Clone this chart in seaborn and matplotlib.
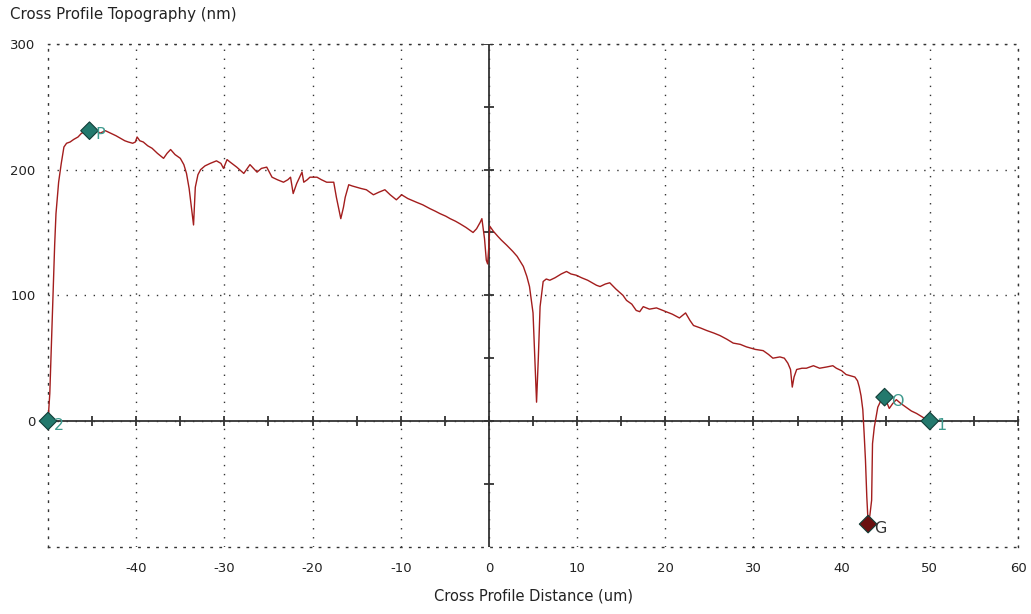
import matplotlib

matplotlib.use("Agg")
import matplotlib.pyplot as plt
import numpy as np
import pandas as pd
import seaborn as sns

# --- 1. DATA ---
distance_um = [
    -50.0, -49.8, -49.6, -49.4, -49.25, -49.1, -48.8, -48.5, -48.2, -47.9,
    -47.5, -47.1, -46.6, -46.2, -45.3, -44.7, -44.1, -43.5, -42.9, -42.3,
    -41.8, -41.3, -40.9, -40.4, -40.1, -39.9, -39.6, -39.2, -38.7, -38.2,
    -37.6, -36.9, -36.5, -36.1, -35.6, -35.0, -34.6, -34.3, -34.0, -33.7,
    -33.5, -33.3, -33.0, -32.7, -32.2, -31.6, -30.9, -30.4, -30.1, -29.7,
    -29.35, -28.6, -27.8, -27.1, -26.3, -25.8, -25.2, -24.6, -24.0, -23.3,
    -22.8, -22.5, -22.2, -21.8, -21.2, -21.0, -20.6, -20.3, -19.5, -19.0,
    -18.4, -17.6, -17.3, -17.0, -16.8, -16.5, -16.3, -15.9, -15.5, -15.0,
    -14.5, -13.9, -13.5, -13.1, -12.5, -11.8, -11.2, -10.5, -9.9, -9.2,
    -8.2, -7.5, -6.7, -6.1, -5.55, -4.9, -4.4, -3.8, -3.3, -2.6,
    -2.2, -1.8, -1.4, -1.0, -0.8, -0.5, -0.3, -0.15, 0.0, 0.1,
    0.5, 1.0, 1.4, 2.0, 2.7, 3.2, 3.9, 4.3, 4.6, 5.0,
    5.2, 5.4, 5.6, 5.8, 6.15, 6.5, 6.9, 7.5, 8.2, 8.8,
    9.3, 9.9, 10.5, 11.2, 12.2, 12.6, 13.2, 13.7, 14.4, 15.2,
    15.6, 16.2, 16.7, 17.1, 17.5, 18.2, 19.0, 20.1, 20.8, 21.6,
    22.3, 22.8, 23.2, 24.0, 24.7, 25.5, 26.2, 27.0, 27.7, 28.5,
    29.2, 30.2, 31.1, 31.7, 32.2, 33.0, 33.5, 33.9, 34.2, 34.4,
    34.6, 34.9, 35.5, 36.0, 36.8, 37.5, 38.3, 39.0, 39.4, 40.0,
    40.5, 41.0, 41.5, 41.8, 42.0, 42.2, 42.4, 42.55, 42.7, 42.85,
    43.0, 43.2, 43.4, 43.5, 43.7, 43.85, 44.1, 44.5, 44.87, 45.1,
    45.4, 45.8, 46.2, 46.7, 47.3, 47.9, 48.5, 49.2, 49.9,
]
height_nm = [
    0, 22, 64, 108, 140, 165, 190, 205, 218, 221,
    222, 224, 226, 229, 231, 232, 229, 231, 229, 227,
    225, 223, 222, 221, 222, 226, 223, 222, 219, 217,
    213, 209, 213, 216, 212, 209, 204, 197, 185, 168,
    156, 186, 196, 200, 203, 205, 207, 205, 201, 208,
    206, 202, 197, 204, 198, 201, 202, 194, 192, 190,
    192, 194, 181, 189, 198, 190, 192, 194, 194, 192,
    190, 190, 178, 168, 161, 170, 178, 188, 187, 186,
    185, 184, 182, 180, 182, 184, 180, 176, 180, 177,
    174, 172, 169, 167, 165, 163, 161, 159, 157, 154,
    152, 150, 153, 158, 161, 145, 128, 125, 140, 155,
    151, 147, 144, 140, 135, 131, 123, 115, 107, 86,
    50, 15, 50, 91, 111, 113, 112, 114, 117, 119,
    117, 116, 114, 112, 108, 107, 109, 110, 105, 100,
    96, 93, 88, 87, 91, 89, 90, 87, 85, 82,
    86, 80, 76, 74, 72, 70, 68, 65, 62, 61,
    59, 57, 56, 53, 50, 51, 50, 46, 41, 27,
    35, 41, 42, 42, 44, 42, 43, 44, 42, 40,
    37, 36, 35, 32, 27, 20, 9, -10, -31, -60,
    -81, -75, -63, -18, -5, 1, 11, 17, 19, 15,
    10, 14, 17, 14, 11, 8, 6, 3, 0,
]

# cursors placed on the profile
cursor_names = ["2", "P", "O", "1", "G"]
cursor_x = [-50.0, -45.3, 44.87, 50.0, 43.0]
cursor_y = [0, 231, 19, 0, -82]
cursor_kind = ["marker", "marker", "marker", "marker", "minimum"]

x_ticks = [-40, -30, -20, -10, 0, 10, 20, 30, 40, 50, 60]
y_ticks = [0, 100, 200, 300]

# --- 2. STYLE ---
sns.set_theme(style="white")
plt.rcParams["font.family"] = ["DejaVu Sans"]
plt.rcParams["axes.unicode_minus"] = False

LINE_RED = "#a31d1d"
TEAL = "#23796d"
TEAL_TEXT = "#3f9a8e"
DARK_RED = "#6a1010"
AXIS_GREY = "#333333"
TEXT = "#222222"
DOTS = (0, (1, 5.5))

profile = pd.DataFrame({"distance": distance_um, "height": height_nm})
cursors = pd.DataFrame(
    {"name": cursor_names, "x": cursor_x, "y": cursor_y, "kind": cursor_kind}
)

fig = plt.figure(figsize=(10.31, 6.14), dpi=100)
ax = fig.add_axes([0.0466, 0.1096, 0.9408, 0.8188])

ax.set_xlim(-50, 60)
ax.set_ylim(-100, 300)

# dotted grid and dotted frame
ax.set_xticks(x_ticks)
ax.set_yticks(y_ticks)
ax.grid(True, color=AXIS_GREY, linestyle=DOTS, linewidth=1.0)
for side in ["top", "bottom", "left", "right"]:
    ax.spines[side].set_visible(True)
    ax.spines[side].set_linestyle(DOTS)
    ax.spines[side].set_linewidth(1.0)
    ax.spines[side].set_color(AXIS_GREY)

ax.tick_params(axis="x", length=0, pad=11, labelsize=9.5, colors=TEXT)
ax.tick_params(axis="y", length=0, pad=9, labelsize=9.5, colors=TEXT)

# solid zero axes with crossing ticks
ax.axhline(0, color=AXIS_GREY, linewidth=1.3, zorder=2)
ax.axvline(0, color=AXIS_GREY, linewidth=1.3, zorder=2)
minor_x = np.arange(-45, 61, 5)
minor_y = np.arange(-50, 301, 50)
ax.plot(minor_x, np.zeros(len(minor_x)), ls="none", marker="|", ms=7,
        mew=1.3, color=AXIS_GREY, zorder=2)
ax.plot(np.zeros(len(minor_y)), minor_y, ls="none", marker="_", ms=7,
        mew=1.3, color=AXIS_GREY, zorder=2)

# --- 3. PROFILE ---
sns.lineplot(data=profile, x="distance", y="height", color=LINE_RED,
             linewidth=1.0, sort=False, estimator=None, ax=ax, zorder=3)

sns.scatterplot(data=cursors, x="x", y="y", hue="kind", style="kind",
                markers={"marker": "D", "minimum": "D"},
                palette={"marker": TEAL, "minimum": DARK_RED},
                s=80, edgecolor="#123f39", linewidth=0.8, legend=False,
                ax=ax, zorder=4, clip_on=False)

for _, row in cursors.iterrows():
    txt_color = TEAL_TEXT if row["kind"] == "marker" else "#333333"
    ax.annotate(row["name"], (row["x"], row["y"]), xytext=(4.5, -3),
                textcoords="offset points", ha="left", va="center",
                fontsize=11.5, color=txt_color, zorder=5)

ax.set_xlabel("Cross Profile Distance (um)", fontsize=10.5, labelpad=10,
              color=TEXT)
ax.set_ylabel("")
fig.text(10 / 1031, 1 - 15 / 614, "Cross Profile Topography (nm)",
         fontsize=10.8, ha="left", va="center", color=TEXT)

plt.savefig("out.png", dpi=100)
